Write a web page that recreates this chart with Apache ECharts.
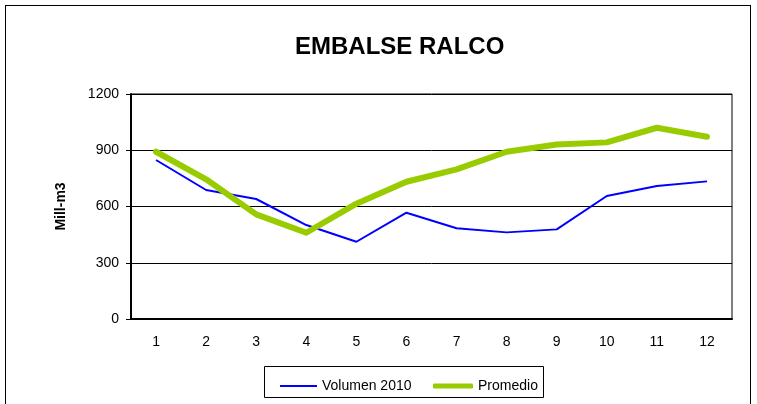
<!DOCTYPE html>
<html><head><meta charset="utf-8">
<script src="https://cdn.jsdelivr.net/npm/echarts@6/dist/echarts.min.js"></script>
<style>
html,body{margin:0;padding:0;background:#fff;}
#frame{position:absolute;left:5px;top:5px;width:746px;height:420px;border:1px solid #000;box-sizing:border-box;}
#c{position:absolute;left:0;top:0;width:757px;height:404px;}
</style></head>
<body>
<div id="frame"></div>
<div id="c"></div>
<script>
const categories = ['1','2','3','4','5','6','7','8','9','10','11','12'];
const volumen2010 = [848, 688, 640, 501, 412, 567, 484, 462, 478, 656, 709, 734];
const promedio = [892, 745, 558, 460, 615, 732, 798, 892, 931, 942, 1020, 972];
const yTicks = [0, 300, 600, 900, 1200];

const chart = echarts.init(document.getElementById('c'));
const font = 'Liberation Sans, Arial, sans-serif';
chart.setOption({
  animation: false,
  title: {
    text: 'EMBALSE RALCO', left: 290, top: 30,
    textStyle: {fontFamily: font, fontWeight: 'bold', fontSize: 24, color: '#000'}
  },
  grid: {left: 131, right: 25, top: 94, bottom: 85, show: true, borderColor: '#000', borderWidth: 1},
  legend: [
    {left: 275, top: 374, itemWidth: 37, itemHeight: 2, icon: 'rect', data: ['Volumen 2010'],
     textStyle: {fontFamily: font, fontSize: 14, color: '#000'}},
    {left: 428, top: 374, itemWidth: 40, itemHeight: 5, icon: 'roundRect', data: ['Promedio'],
     textStyle: {fontFamily: font, fontSize: 14, color: '#000'}}
  ],
  graphic: [{type: 'rect', shape: {x: 264.5, y: 366.5, width: 279, height: 31},
    style: {fill: 'none', stroke: '#000', lineWidth: 1}, z: 0}],
  xAxis: {
    type: 'category', data: categories, boundaryGap: true,
    axisLine: {lineStyle: {color: '#000', width: 2}},
    axisTick: {inside: true, length: 5, lineStyle: {color: '#000', width: 2}},
    axisLabel: {fontFamily: font, fontSize: 14, color: '#000', margin: 16},
    splitLine: {show: false}
  },
  yAxis: {
    type: 'value', min: yTicks[0], max: yTicks[yTicks.length-1], interval: 300,
    name: 'Mill-m3', nameLocation: 'middle', nameRotate: 90, nameGap: 63,
    nameTextStyle: {fontFamily: font, fontWeight: 'bold', fontSize: 14, color: '#000'},
    axisLine: {show: true, lineStyle: {color: '#000', width: 2}},
    axisTick: {show: true, inside: false, length: 5, lineStyle: {color: '#000'}},
    axisLabel: {fontFamily: font, fontSize: 14, color: '#000', margin: 12,
      formatter: function (v) { return String(v); }},
    splitLine: {show: true, lineStyle: {color: '#000', width: 1}}
  },
  series: [
    {name: 'Volumen 2010', type: 'line', data: volumen2010, symbol: 'none',
     lineStyle: {color: '#0000ff', width: 2}, itemStyle: {color: '#0000ff'}, z: 2},
    {name: 'Promedio', type: 'line', data: promedio, symbol: 'none',
     lineStyle: {color: '#99cc00', width: 6, cap: 'round', join: 'round'}, itemStyle: {color: '#99cc00'}, z: 3}
  ]
});
</script>
</body></html>
